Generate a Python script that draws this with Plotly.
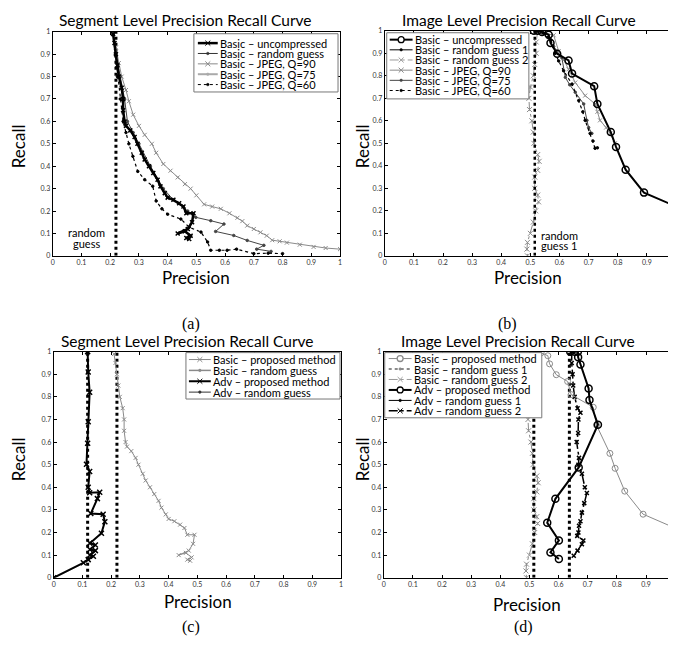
import plotly.graph_objects as go

# the page body keeps an 8px margin, so the figure is drawn 8px smaller on each side
W, H = 668, 629
OFF = 8
FONT = "Lato"

# ---------------- data ----------------
TICKS = [0, 0.1, 0.2, 0.3, 0.4, 0.5, 0.6, 0.7, 0.8, 0.9, 1]
TICK_TEXT = ["0", "0.1", "0.2", "0.3", "0.4", "0.5", "0.6", "0.7", "0.8", "0.9", "1"]

# (a) segment level, basic detector
seg_unc_p = [0.21, 0.215, 0.22, 0.225, 0.23, 0.24, 0.245, 0.245, 0.25, 0.255, 0.27, 0.285, 0.295, 0.31,
             0.32, 0.335, 0.35, 0.365, 0.375, 0.39, 0.40, 0.42, 0.44, 0.455, 0.465, 0.49, 0.485, 0.47,
             0.435, 0.46, 0.48, 0.465, 0.475]
seg_unc_r = [0.99, 0.95, 0.9, 0.85, 0.8, 0.75, 0.7, 0.65, 0.6, 0.58, 0.56, 0.53, 0.5, 0.46,
             0.43, 0.4, 0.37, 0.34, 0.31, 0.28, 0.26, 0.25, 0.235, 0.22, 0.19, 0.19, 0.15, 0.12,
             0.10, 0.11, 0.09, 0.08, 0.075]
seg_rand_p = [0.22, 0.22]
seg_rand_r = [0, 1]
seg_q90_p = [0.21, 0.22, 0.23, 0.24, 0.255, 0.265, 0.28, 0.3, 0.32, 0.345, 0.36, 0.385, 0.41, 0.435,
             0.46, 0.48, 0.5, 0.527, 0.555, 0.585, 0.615, 0.643, 0.66, 0.677, 0.7, 0.723, 0.745,
             0.764, 0.79, 0.815, 0.86, 0.908, 0.95, 1.0]
seg_q90_r = [0.99, 0.93, 0.86, 0.8, 0.74, 0.69, 0.63, 0.58, 0.54, 0.5, 0.46, 0.41, 0.38, 0.35,
             0.32, 0.3, 0.27, 0.23, 0.22, 0.21, 0.19, 0.17, 0.155, 0.135, 0.12, 0.105, 0.09,
             0.07, 0.065, 0.059, 0.05, 0.04, 0.035, 0.03]
seg_q75_p = [0.21, 0.22, 0.235, 0.25, 0.26, 0.28, 0.3, 0.34, 0.385, 0.42, 0.47, 0.498, 0.55, 0.596,
             0.567, 0.63, 0.677, 0.735, 0.71, 0.76]
seg_q75_r = [0.99, 0.9, 0.8, 0.7, 0.6, 0.55, 0.5, 0.4, 0.3, 0.25, 0.2, 0.172, 0.157, 0.142,
             0.109, 0.091, 0.069, 0.047, 0.03, 0.02]
seg_q60_p = [0.21, 0.218, 0.225, 0.235, 0.245, 0.255, 0.265, 0.279, 0.296, 0.32, 0.348, 0.36, 0.38,
             0.40, 0.446, 0.475, 0.516, 0.539, 0.55, 0.58, 0.607, 0.64, 0.70, 0.75, 0.8]
seg_q60_r = [0.99, 0.9, 0.8, 0.7, 0.6, 0.55, 0.5, 0.444, 0.377, 0.34, 0.311, 0.245, 0.21,
             0.186, 0.164, 0.128, 0.106, 0.062, 0.025, 0.025, 0.025, 0.03, 0.01, 0.012, 0.01]

# (b) image level, basic detector
img_unc_p = [0.512, 0.525, 0.54, 0.563, 0.569, 0.592, 0.631, 0.643, 0.719, 0.730, 0.776, 0.794,
             0.827, 0.890, 0.99, 1.0, 1.0, 1.0, 1.0]
img_unc_r = [1.0, 1.0, 0.995, 0.982, 0.946, 0.898, 0.868, 0.810, 0.754, 0.675, 0.55, 0.484,
             0.383, 0.281, 0.225, 0.17, 0.136, 0.06, 0.018]
img_rand1_p = [0.515, 0.515]
img_rand1_r = [0, 1]
img_rand2_p = [0.525, 0.52, 0.52, 0.515, 0.51, 0.5, 0.495, 0.497, 0.505, 0.51, 0.512, 0.525, 0.53,
               0.525, 0.515, 0.515, 0.525, 0.528, 0.518, 0.51, 0.5, 0.49, 0.488, 0.49]
img_rand2_r = [1.0, 0.95, 0.9, 0.85, 0.8, 0.75, 0.7, 0.65, 0.6, 0.55, 0.5, 0.45, 0.42,
               0.38, 0.35, 0.3, 0.27, 0.24, 0.2, 0.15, 0.1, 0.06, 0.03, 0.0]
img_q90_p = [0.53, 0.55, 0.58, 0.597, 0.615, 0.631, 0.654, 0.688, 0.722, 0.73, 0.739, 0.76, 0.774, 0.79]
img_q90_r = [1.0, 0.99, 0.98, 0.91, 0.87, 0.829, 0.77, 0.712, 0.675, 0.64, 0.602, 0.57, 0.544, 0.5]
img_q75_p = [0.52, 0.54, 0.56, 0.58, 0.608, 0.62, 0.635, 0.654, 0.683, 0.694, 0.70, 0.711]
img_q75_r = [1.0, 0.99, 0.97, 0.93, 0.88, 0.793, 0.76, 0.727, 0.675, 0.602, 0.57, 0.544]
img_q60_p = [0.52, 0.545, 0.57, 0.585, 0.597, 0.614, 0.643, 0.666, 0.68, 0.688, 0.705, 0.715, 0.722, 0.73]
img_q60_r = [1.0, 0.99, 0.96, 0.9, 0.866, 0.822, 0.763, 0.69, 0.64, 0.602, 0.544, 0.51, 0.478, 0.48]

# (c) segment level, advanced detector
seg_adv_p = [0.118, 0.12, 0.125, 0.12, 0.118, 0.114, 0.125, 0.12, 0.125, 0.16, 0.152, 0.129, 0.172,
             0.178, 0.166, 0.126, 0.145, 0.126, 0.145, 0.126, 0.138, 0.12, 0.103, 0.0]
seg_adv_r = [1.0, 0.91, 0.82, 0.69, 0.595, 0.502, 0.47, 0.40, 0.376, 0.378, 0.35, 0.284, 0.281,
             0.248, 0.197, 0.153, 0.145, 0.125, 0.12, 0.1, 0.095, 0.08, 0.066, 0.0]
seg_adv_rand_p = [0.118, 0.118]
seg_adv_rand_r = [0, 1]

# (d) image level, advanced detector
img_adv_p = [0.64, 0.655, 0.666, 0.667, 0.675, 0.703, 0.706, 0.735, 0.669, 0.589, 0.561, 0.601, 0.572, 0.601]
img_adv_r = [1.0, 1.0, 1.0, 0.975, 0.943, 0.837, 0.786, 0.677, 0.488, 0.349, 0.243, 0.165, 0.112, 0.083]
img_adv_rand1_p = [0.637, 0.637]
img_adv_rand1_r = [0, 1]
img_adv_rand2_p = [0.645, 0.645, 0.648, 0.65, 0.655, 0.665, 0.675, 0.668, 0.667, 0.662, 0.67, 0.668,
                   0.68, 0.69, 0.697, 0.688, 0.68, 0.675, 0.67, 0.668, 0.664, 0.685, 0.68, 0.665, 0.652]
img_adv_rand2_r = [1.0, 0.95, 0.9, 0.85, 0.8, 0.75, 0.73, 0.7, 0.64, 0.6, 0.53, 0.5, 0.46, 0.4,
                   0.375, 0.33, 0.288, 0.25, 0.23, 0.2, 0.185, 0.165, 0.148, 0.12, 0.097]


def px(x):
    return (x - OFF) / W


def py(y):
    return 1 - (y - OFF) / H


# pixel boxes (in the 676x645 window) of the four axes and their x ranges
panels = [
    dict(x=(51, 340), y=(27, 254), xr=[0, 1]),
    dict(x=(385, 676), y=(26, 254), xr=[0, 0.993]),
    dict(x=(52, 341), y=(351, 580), xr=[0, 1]),
    dict(x=(384, 676), y=(351, 580), xr=[0, 0.996]),
]

fig = go.Figure()


def add(i, x, y, color="black", width=1, dash="solid", symbol=None, msize=4, mlw=1):
    sfx = "" if i == 0 else str(i + 1)
    mode = "lines+markers" if symbol else "lines"
    fig.add_trace(go.Scatter(
        x=x, y=y, mode=mode, xaxis="x" + sfx, yaxis="y" + sfx,
        line=dict(color=color, width=width, dash=dash),
        marker=dict(symbol=symbol or "circle", size=msize, color=color,
                    line=dict(color=color, width=mlw)),
        hoverinfo="skip"))


# (a)
add(0, seg_rand_p, seg_rand_r, "black", 3, "dot")
add(0, seg_q90_p, seg_q90_r, "#8a8a8a", 1, "solid", "x-thin", 4)
add(0, seg_q75_p, seg_q75_r, "#444444", 1, "solid", "circle", 2.5)
add(0, seg_q60_p, seg_q60_r, "black", 1.2, "dot", "circle", 2.5)
add(0, seg_unc_p, seg_unc_r, "black", 2.5, "solid", "x-thin", 4, 1.5)
# (b)
add(1, img_rand2_p, img_rand2_r, "#8a8a8a", 1, "dashdot", "x-thin", 5)
add(1, img_rand1_p, img_rand1_r, "black", 2.5, "dot")
add(1, img_q90_p, img_q90_r, "#8a8a8a", 1, "solid", "x-thin", 4)
add(1, img_q75_p, img_q75_r, "#444444", 1, "solid", "circle", 2.5)
add(1, img_q60_p, img_q60_r, "black", 1.2, "dot", "circle", 2.5)
add(1, img_unc_p, img_unc_r, "black", 2, "solid", "circle-open", 7, 1.5)
# (c)
add(2, seg_rand_p, seg_rand_r, "black", 3, "dot")
add(2, seg_adv_rand_p, seg_adv_rand_r, "black", 3, "dot")
add(2, seg_unc_p, seg_unc_r, "#8a8a8a", 1, "solid", "x-thin", 4)
add(2, seg_adv_p, seg_adv_r, "black", 2, "solid", "x-thin", 5, 1.5)
# (d)
add(3, img_rand2_p, img_rand2_r, "#8a8a8a", 1, "dashdot", "x-thin", 5)
add(3, img_rand1_p, img_rand1_r, "black", 3, "dot")
add(3, img_adv_rand1_p, img_adv_rand1_r, "black", 3, "dot")
add(3, img_adv_rand2_p, img_adv_rand2_r, "black", 1.5, "dashdot", "x-thin", 4, 1.5)
add(3, img_unc_p[:15], img_unc_r[:15], "#8a8a8a", 1, "solid", "circle-open", 6, 1)
add(3, img_adv_p, img_adv_r, "black", 2, "solid", "circle-open", 7, 1.5)

# axes
axis_common = dict(tickvals=TICKS, ticktext=TICK_TEXT, ticks="inside", ticklen=3, tickcolor="black",
                   showline=True, linecolor="black", linewidth=1, mirror="ticks",
                   showgrid=False, zeroline=False,
                   tickfont=dict(family=FONT, size=7, color="#333333"))
for i, pnl in enumerate(panels):
    sfx = "" if i == 0 else str(i + 1)
    fig.update_layout(**{
        "xaxis" + sfx: dict(axis_common, domain=[px(pnl["x"][0]), min(1, px(pnl["x"][1]))],
                            range=pnl["xr"], anchor="y" + sfx),
        "yaxis" + sfx: dict(axis_common, domain=[py(pnl["y"][1]), py(pnl["y"][0])],
                            range=[0, 1], anchor="x" + sfx),
    })

annotations = []
shapes = []


def text(x, y, s, size, family=FONT, angle=0, xanchor="center"):
    annotations.append(dict(x=px(x), y=py(y), xref="paper", yref="paper", text=s, showarrow=False,
                            xanchor=xanchor, yanchor="middle", textangle=angle,
                            borderpad=0, font=dict(family=family, size=size, color="black")))


# titles, axis labels, panel labels
for cx, cy, s in [(185, 15, "Segment Level Precision Recall Curve"),
                  (520, 15, "Image Level Precision Recall Curve"),
                  (187, 340, "Segment Level Precision Recall Curve"),
                  (519, 340, "Image Level Precision Recall Curve")]:
    text(cx, cy, s, 15.5)
for cx, cy in [(195, 276), (529, 276), (197, 604), (528, 607)]:
    text(cx, cy, "Precision", 17)
for cx, cy in [(16, 143), (362, 143), (16, 460), (362, 460)]:
    text(cx, cy, "Recall", 17, angle=-90)
for cx, cy, s in [(190, 323, "(a)"), (508, 323, "(b)"), (190, 630, "(c)"), (525, 630, "(d)")]:
    text(cx, cy, s, 16, family="Liberation Serif")

text(85, 230, "random", 11)
text(85, 241, "guess", 11)
text(541, 233, "random", 11, xanchor="left")
text(541, 244, "guess 1", 11, xanchor="left")


def legend(box, sx, tx, ys, entries):
    x0, y0, x1, y1 = box
    shapes.append(dict(type="rect", xref="paper", yref="paper", x0=px(x0), x1=px(x1),
                       y0=py(y1), y1=py(y0), line=dict(color="#777777", width=1),
                       fillcolor="white"))
    for yy, (label, color, width, dash, mk) in zip(ys, entries):
        shapes.append(dict(type="line", xref="paper", yref="paper", x0=px(sx[0]), x1=px(sx[1]),
                           y0=py(yy), y1=py(yy), line=dict(color=color, width=width, dash=dash)))
        mx = (sx[0] + sx[1]) / 2
        if mk == "o":
            shapes.append(dict(type="circle", xref="paper", yref="paper", x0=px(mx - 3), x1=px(mx + 3),
                               y0=py(yy + 3), y1=py(yy - 3), line=dict(color=color, width=1.3),
                               fillcolor="white"))
        elif mk == "x":
            for d in (1, -1):
                shapes.append(dict(type="line", xref="paper", yref="paper", x0=px(mx - 2.5),
                                   x1=px(mx + 2.5), y0=py(yy - 2.5 * d), y1=py(yy + 2.5 * d),
                                   line=dict(color=color, width=1)))
        elif mk == ".":
            shapes.append(dict(type="circle", xref="paper", yref="paper", x0=px(mx - 1.3),
                               x1=px(mx + 1.3), y0=py(yy + 1.3), y1=py(yy - 1.3),
                               line=dict(color=color, width=0.5), fillcolor=color))
        text(tx, yy, label, 11, xanchor="left")


legend((193, 29, 338, 88), (197, 217), 218, [38.5, 49, 59.5, 70, 80.5], [
    ("Basic – uncompressed", "black", 2.5, "solid", "x"),
    ("Basic – random guess", "#333333", 1, "solid", "."),
    ("Basic – JPEG, Q=90", "#8a8a8a", 1, "solid", "x"),
    ("Basic – JPEG, Q=75", "#aaaaaa", 2, "solid", "."),
    ("Basic – JPEG, Q=60", "black", 1, "dot", "."),
])
legend((387, 28, 530, 95), (390, 413), 414, [35, 45.3, 55.6, 65.9, 76.2, 86.5], [
    ("Basic – uncompressed", "black", 2, "solid", "o"),
    ("Basic – random guess 1", "black", 1, "solid", "."),
    ("Basic – random guess 2", "#9a9a9a", 1, "dashdot", "x"),
    ("Basic – JPEG, Q=90", "#8a8a8a", 1, "solid", "x"),
    ("Basic – JPEG, Q=75", "#444444", 1, "solid", "."),
    ("Basic – JPEG, Q=60", "black", 1, "dot", "."),
])
legend((185, 352, 340, 399), (188, 210), 211, [359, 370, 381, 392], [
    ("Basic – proposed method", "#8a8a8a", 1, "solid", "x"),
    ("Basic – random guess", "#8a8a8a", 1.5, "solid", "."),
    ("Adv – proposed method", "black", 2, "solid", "x"),
    ("Adv – random guess", "#333333", 1, "solid", "."),
])
legend((385, 352, 543, 418), (389, 412), 413, [358, 368.6, 379.2, 389.8, 400.4, 411], [
    ("Basic – proposed method", "#8a8a8a", 1, "solid", "o"),
    ("Basic – random guess 1", "#8a8a8a", 2, "dot", "."),
    ("Basic – random guess 2", "#9a9a9a", 1, "dashdot", "x"),
    ("Adv – proposed method", "black", 2, "solid", "o"),
    ("Adv – random guess 1", "black", 1, "solid", "."),
    ("Adv – random guess 2", "black", 1.5, "dashdot", "x"),
])

fig.update_layout(width=W, height=H, margin=dict(l=0, r=0, t=0, b=0), showlegend=False,
                  plot_bgcolor="white", paper_bgcolor="white",
                  annotations=annotations, shapes=shapes)

fig.write_html("out.html")
